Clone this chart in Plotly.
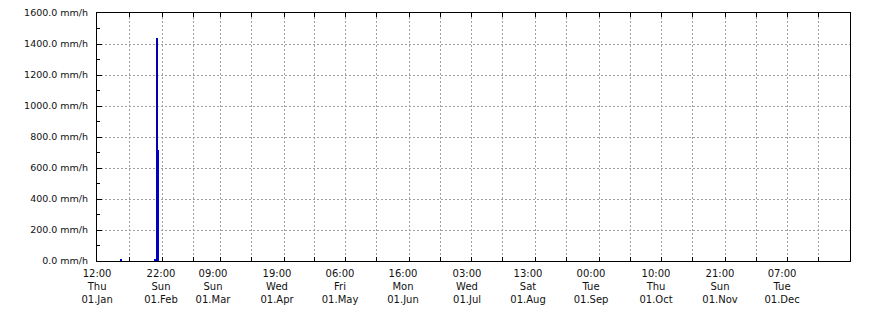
import plotly.graph_objects as go

# ---- data ----
rain_dates = ["2015-01-11 20:00", "2015-01-28 14:00", "2015-01-29 22:00"]
rain_rate = [9, 9, 715]
max_dates = ["2015-01-29 09:00"]
max_rate = [1440]

x_start = "2014-12-31 08:10"
x_end = "2015-12-31 08:10"

label_dates = ["2014-12-31 09:00", "2015-01-31 08:40", "2015-02-25 13:40", "2015-03-28 14:25",
               "2015-04-28 03:20", "2015-05-28 16:10", "2015-06-28 16:50", "2015-07-28 06:30",
               "2015-08-27 19:25", "2015-09-28 07:40", "2015-10-29 08:10", "2015-11-28 09:35"]
label_time = ["12:00", "22:00", "09:00", "19:00", "06:00", "16:00", "03:00", "13:00",
              "00:00", "10:00", "21:00", "07:00"]
label_day = ["Thu", "Sun", "Sun", "Wed", "Fri", "Mon", "Wed", "Sat", "Tue", "Thu", "Sun", "Tue"]
label_date = ["01.Jan", "01.Feb", "01.Mar", "01.Apr", "01.May", "01.Jun", "01.Jul", "01.Aug",
              "01.Sep", "01.Oct", "01.Nov", "01.Dec"]

y_ticks = [0, 200, 400, 600, 800, 1000, 1200, 1400, 1600]
y_labels = [f"{v:.1f} mm/h" for v in y_ticks]

grid_dates = []
for m in range(1, 13):
    if m > 1:
        grid_dates.append(f"2015-{m:02d}-01")
    grid_dates.append(f"2015-{m:02d}-16")

DAY_MS = 86400000
YFONT = dict(family="DejaVu Sans", size=9.5, color="#111111")
XFONT = dict(family="DejaVu Sans", size=10, color="#111111")

fig = go.Figure()
fig.add_trace(go.Bar(x=max_dates, y=max_rate, width=[0.45 * DAY_MS],
                     marker=dict(color="#0000a8", line=dict(width=0)), showlegend=False))
fig.add_trace(go.Bar(x=rain_dates, y=rain_rate, width=[0.6 * DAY_MS, 0.6 * DAY_MS, 1.1 * DAY_MS],
                     marker=dict(color="#0000cc", line=dict(width=0)), showlegend=False))
# invisible trace on the label axis
fig.add_trace(go.Scatter(x=[x_start, x_end], y=[0, 0], xaxis="x2", mode="lines",
                         line=dict(width=0), hoverinfo="skip", showlegend=False))

fig.update_layout(
    width=870, height=310,
    margin=dict(l=97, r=20, t=13, b=49, autoexpand=False),
    paper_bgcolor="white", plot_bgcolor="white",
    barmode="overlay", bargap=0,
    font=YFONT,
    xaxis=dict(
        type="date", range=[x_start, x_end], automargin=False,
        tickmode="array", tickvals=grid_dates, ticktext=["" for _ in grid_dates],
        ticks="inside", ticklen=4, tickcolor="black", tickwidth=1,
        showgrid=True, gridcolor="#a0a0a0", griddash="2px,2px", gridwidth=1,
        showline=True, linecolor="black", linewidth=1, mirror="ticks",
        zeroline=False,
    ),
    xaxis2=dict(
        type="date", range=[x_start, x_end], overlaying="x", anchor="y", side="bottom",
        automargin=False,
        tickmode="array", tickvals=label_dates,
        ticktext=[f"{a}<br>{b}<br>{c}" for a, b, c in zip(label_time, label_day, label_date)],
        ticks="", showgrid=False, showline=False, zeroline=False,
        tickfont=XFONT, ticklabelstandoff=5,
    ),
    yaxis=dict(
        range=[0, 1600], tickmode="array", tickvals=y_ticks, ticktext=y_labels,
        automargin=False,
        ticks="inside", ticklen=5, tickcolor="black", tickwidth=1,
        minor=dict(dtick=100, ticks="inside", ticklen=3, tickcolor="black", showgrid=False),
        showgrid=True, gridcolor="#a0a0a0", griddash="2px,2px", gridwidth=1,
        showline=True, linecolor="black", linewidth=1, mirror=True,
        zeroline=False, tickfont=YFONT, ticklabelstandoff=6,
    ),
)

fig.write_html("out.html")
